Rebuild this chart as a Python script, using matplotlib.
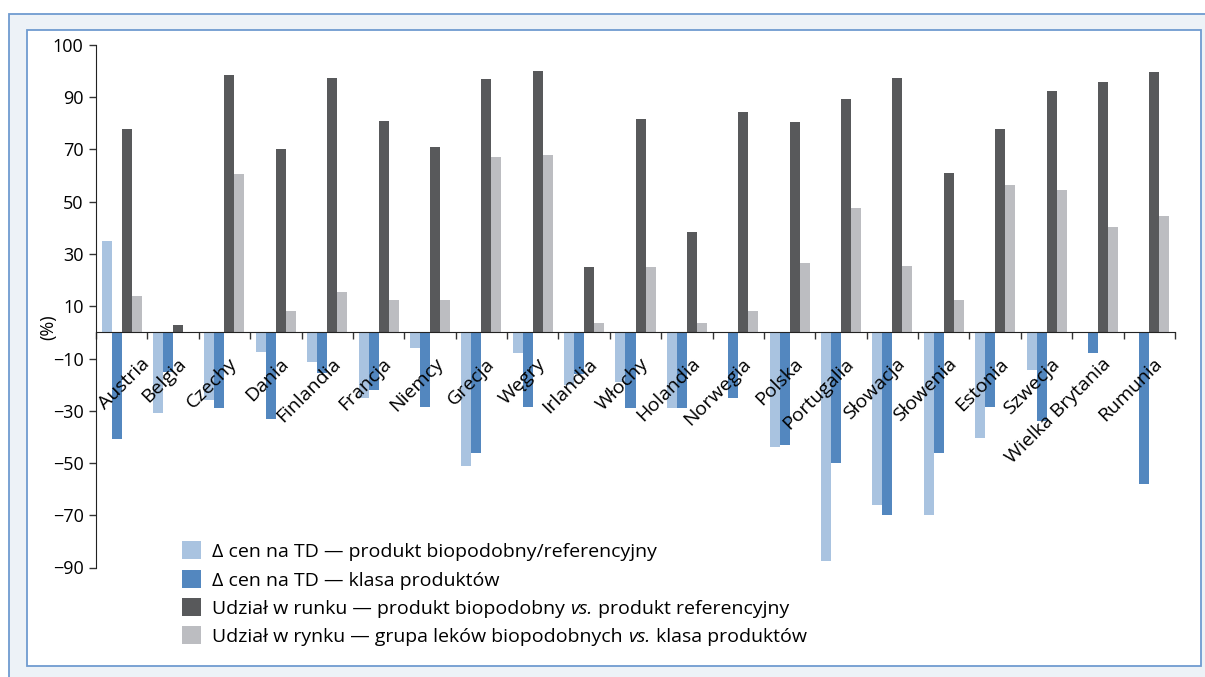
import matplotlib
matplotlib.use('Agg')
import matplotlib.pyplot as plt
from matplotlib.patches import Rectangle
import numpy as np

plt.rcParams['font.family'] = ['Open Sans', 'DejaVu Sans']

# dane (%)
kraje = ['Austria', 'Belgia', 'Czechy', 'Dania', 'Finlandia', 'Francja', 'Niemcy',
         'Grecja', 'Węgry', 'Irlandia', 'Włochy', 'Holandia', 'Norwegia', 'Polska',
         'Portugalia', 'Słowacja', 'Słowenia', 'Estonia', 'Szwecja',
         'Wielka Brytania', 'Rumunia']
delta_bio_ref = [35, -31, -26, -7.5, -11.5, -25, -6, -51, -8, -20, -19, -29, 0, -44,
                 -87.5, -66, -70, -40.5, -14.5, 0, 0]
delta_klasa = [-41, -15, -29, -33, -15.5, -22, -28.5, -46, -28.5, -16, -29, -29, -25, -43,
               -50, -70, -46, -28.5, -34, -8, -58]
udzial_produkt = [78, 3, 98.5, 70, 97.5, 81, 71, 97, 100, 25, 81.5, 38.5, 84.5, 80.5,
                  89.5, 97.5, 61, 78, 92.5, 96, 99.5]
udzial_grupa = [14, 0, 60.5, 8, 15.5, 12.5, 12.5, 67, 68, 3.5, 25, 3.5, 8, 26.5,
                47.5, 25.5, 12.5, 56.5, 54.5, 40.5, 44.5]

# opisy legendy: fragmenty (tekst, kursywa)
etykiety = [
    [('\u0394 cen na TD \u2014 produkt biopodobny/referencyjny', False)],
    [('\u0394 cen na TD \u2014 klasa produktów', False)],
    [('Udział w runku \u2014 produkt biopodobny ', False), ('vs.', True),
     (' produkt referencyjny', False)],
    [('Udział w rynku \u2014 grupa leków biopodobnych ', False), ('vs.', True),
     (' klasa produktów', False)],
]
kolory = ['#a9c3e0', '#5387bf', '#58595b', '#bcbdc1']

W, H = 1205, 677
fig = plt.figure(figsize=(W / 100, H / 100), dpi=100)

# ramki tła
fig.patches.append(Rectangle((8.5 / W, -0.05), 1.1, (H - 13.5) / H + 0.05,
                             transform=fig.transFigure, facecolor='#edf2f7',
                             edgecolor='#6f9bd0', linewidth=1.3, zorder=-2))
fig.patches.append(Rectangle((27 / W, (H - 665.5) / H), (1201 - 27) / W, (665.5 - 29.5) / H,
                             transform=fig.transFigure, facecolor='white',
                             edgecolor='#6f9bd0', linewidth=1.3, zorder=-1))

ax = fig.add_axes([96 / W, 1 - 567.5 / H, (1175 - 96) / W, (567.5 - 45) / H])
ax.set_zorder(2)
ax.patch.set_alpha(0)

x = np.arange(len(kraje)) + 0.5
w = 0.195
serie = [delta_bio_ref, delta_klasa, udzial_produkt, udzial_grupa]
for k, (vals, c) in enumerate(zip(serie, kolory)):
    ax.bar(x + (k - 1.5) * w, vals, width=w, color=c, linewidth=0, zorder=2)

ax.set_xlim(0, len(kraje))
ax.set_ylim(-90, 110)
yt = np.arange(-90, 111, 20)
ax.set_yticks(yt)
ax.set_yticklabels([str(v).replace('-', '\u2212') for v in yt[:-1]] + ['100'])
ax.tick_params(axis='y', length=5, width=1, pad=4, labelsize=13, color='#333333')

ax.spines['top'].set_visible(False)
ax.spines['right'].set_visible(False)
ax.spines['bottom'].set_position(('data', 0))
ax.spines['left'].set_color('#222222')
ax.spines['bottom'].set_color('#222222')
ax.spines['bottom'].set_zorder(3)
ax.set_xticks(np.arange(0, len(kraje) + 1))
ax.set_xticklabels([])
ax.tick_params(axis='x', direction='out', length=5, width=1, color='#333333')

# etykiety krajów
for i, name in enumerate(kraje):
    dx = 0.48 if i == 0 else 0.2
    ax.text(x[i] + dx, -11, name, rotation=45, rotation_mode='anchor',
            ha='right', va='center', fontsize=14, color='black', zorder=4)

ax.text(-0.0445, 2, '(%)', transform=ax.get_yaxis_transform(), rotation=90,
        ha='center', va='center', fontsize=13)

# legenda rysowana ręcznie (równe odstępy wierszy, kursywa w środku tekstu)
fig.canvas.draw()
r = fig.canvas.get_renderer()
wiersze_y = [550, 579, 607, 635]
for yy, c, czesci in zip(wiersze_y, kolory, etykiety):
    fig.patches.append(Rectangle((182 / W, 1 - (yy + 9) / H), 19 / W, 18 / H,
                                 transform=fig.transFigure, facecolor=c,
                                 edgecolor='none', zorder=3))
    xx = 212
    for tekst, kursywa in czesci:
        t = fig.text(xx / W, 1 - yy / H, tekst, fontsize=14, va='center_baseline',
                     ha='left', style='italic' if kursywa else 'normal')
        xx = t.get_window_extent(r).x1 + (1 if kursywa else 0)

fig.savefig('out.png', dpi=100)
